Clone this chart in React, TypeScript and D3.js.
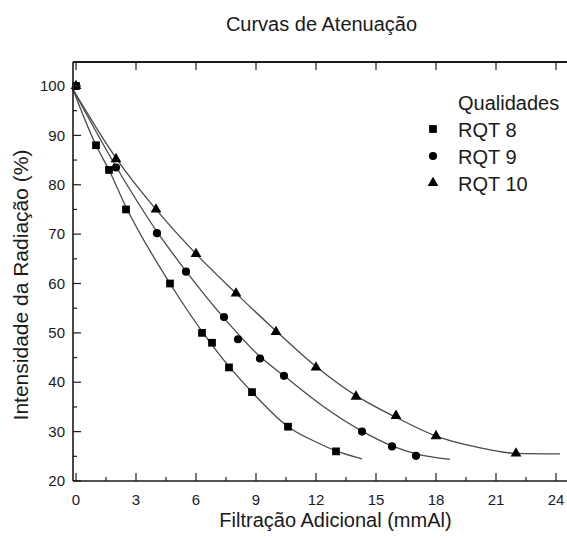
import React from "react";
import * as d3 from "d3";

const width = 567;
const height = 539;

// measured points (Filtração mmAl, Intensidade %)
const rqt8X = [0, 1, 1.65, 2.5, 4.7, 6.3, 6.8, 7.65, 8.8, 10.6, 13];
const rqt8Y = [100, 88, 83, 75, 60, 50, 48, 43, 38, 31, 26];
const rqt9X = [0, 2, 4.05, 5.5, 7.4, 8.1, 9.2, 10.4, 14.3, 15.8, 17];
const rqt9Y = [100, 83.5, 70.2, 62.4, 53.2, 48.7, 44.8, 41.3, 30, 27, 25.1];
const rqt10X = [0, 2, 4, 6, 8, 10, 12, 14, 16, 18, 22];
const rqt10Y = [100, 85.2, 75, 66, 58, 50.2, 43, 37.1, 33.2, 29.1, 25.6];

// fitted curves
const fit8X = [-0.15, 1, 1.65, 2.5, 4.7, 6.5, 7.65, 8.8, 10.6, 12, 13, 14.3];
const fit8Y = [99.3, 88, 83, 75.5, 60, 49.2, 43.2, 38, 31, 27.9, 26.1, 24.5];
const fit9X = [-0.15, 2, 4.05, 5.5, 7.4, 9.2, 10.4, 12.3, 14.3, 15.8, 17, 18.7];
const fit9Y = [99.3, 83.7, 70.5, 62.5, 53, 45.2, 41.3, 35.3, 30.1, 27.1, 25.5, 24.4];
const fit10X = [-0.15, 2, 4, 6, 8, 10, 12, 14, 16, 18, 20, 22, 24.2];
const fit10Y = [99.3, 85.4, 75, 66, 58, 50.4, 43.2, 37.3, 32.9, 29.1, 26.9, 25.6, 25.5];

const seriesNames = ["RQT 8", "RQT 9", "RQT 10"];
const xTicks = [0, 3, 6, 9, 12, 15, 18, 21, 24];
const xMinor = [1.5, 4.5, 7.5, 10.5, 13.5, 16.5, 19.5, 22.5];
const yTicks = [20, 30, 40, 50, 60, 70, 80, 90, 100];
const yMinor = [25, 35, 45, 55, 65, 75, 85, 95];

const font = "'Liberation Sans', Arial, sans-serif";
const ink = "#1a1a1a";

const x = d3.scaleLinear().domain([-0.15, 24.55]).range([73, 567]);
const y = d3.scaleLinear().domain([20, 104.86]).range([481, 62]);

const zip = (xs: number[], ys: number[]) => xs.map((v, i) => [v, ys[i]] as [number, number]);

const line = d3
  .line<[number, number]>()
  .x((d) => x(d[0]))
  .y((d) => y(d[1]))
  .curve(d3.curveMonotoneX);

const symbols = [
  d3.symbol(d3.symbolSquare, 60),
  d3.symbol(d3.symbolCircle, 52),
  d3.symbol(d3.symbolTriangle, 50),
];

const points = [zip(rqt8X, rqt8Y), zip(rqt9X, rqt9Y), zip(rqt10X, rqt10Y)];
const fits = [zip(fit8X, fit8Y), zip(fit9X, fit9Y), zip(fit10X, fit10Y)];

export default function App() {
  const left = x.range()[0];
  const right = x.range()[1];
  const bottom = y.range()[0];
  const top = y.range()[1];

  return (
    <svg width={width} height={height} style={{ display: "block", position: "absolute", left: 0, top: 0 }}>
      <rect width={width} height={height} fill="#fff" />
      <text x={321.5} y={31} textAnchor="middle" fontFamily={font} fontSize={20} fill={ink}>
        Curvas de Atenuação
      </text>

      {/* fitted curves */}
      {fits.map((f, i) => (
        <path key={i} d={line(f) || ""} fill="none" stroke="#4a4a4a" strokeWidth={1.3} />
      ))}

      {/* markers */}
      {points.map((pts, i) =>
        pts.map((p, j) => (
          <path
            key={`${i}-${j}`}
            d={symbols[i]() || ""}
            transform={`translate(${x(p[0])},${y(p[1])})`}
            fill="#000"
          />
        ))
      )}

      {/* frame */}
      <line x1={left} x2={right} y1={bottom} y2={bottom} stroke={ink} strokeWidth={1.6} />
      <line x1={left} x2={right} y1={top} y2={top} stroke={ink} strokeWidth={1.8} />
      <line x1={left} x2={left} y1={top} y2={bottom} stroke={ink} strokeWidth={1.6} />

      {/* x ticks */}
      {xTicks.map((t) => (
        <g key={t}>
          <line x1={x(t)} x2={x(t)} y1={bottom} y2={bottom - 8} stroke={ink} strokeWidth={1.2} />
          <line x1={x(t)} x2={x(t)} y1={top} y2={top + 8} stroke={ink} strokeWidth={1.2} />
          <text x={x(t)} y={505} textAnchor="middle" fontFamily={font} fontSize={15} fill={ink}>
            {t}
          </text>
        </g>
      ))}
      {xMinor.map((t) => (
        <line key={t} x1={x(t)} x2={x(t)} y1={bottom} y2={bottom - 4} stroke={ink} strokeWidth={1.2} />
      ))}

      {/* y ticks */}
      {yTicks.map((t) => (
        <g key={t}>
          <line x1={left} x2={left + 8} y1={y(t)} y2={y(t)} stroke={ink} strokeWidth={1.2} />
          <text x={65} y={y(t)} dy="0.35em" textAnchor="end" fontFamily={font} fontSize={15} fill={ink}>
            {t}
          </text>
        </g>
      ))}
      {yMinor.map((t) => (
        <line key={t} x1={left} x2={left + 4} y1={y(t)} y2={y(t)} stroke={ink} strokeWidth={1.2} />
      ))}

      <text x={335.5} y={527} textAnchor="middle" fontFamily={font} fontSize={20} fill={ink}>
        Filtração Adicional (mmAl)
      </text>
      <text
        transform="translate(28,285) rotate(-90)"
        textAnchor="middle"
        fontFamily={font}
        fontSize={21}
        fill={ink}
      >
        Intensidade da Radiação (%)
      </text>

      {/* legend */}
      <text x={458} y={110} fontFamily={font} fontSize={20} fill={ink}>
        Qualidades
      </text>
      {seriesNames.map((name, i) => (
        <g key={name}>
          <path d={symbols[i]() || ""} transform={`translate(433,${129 + i * 27})`} fill="#000" />
          <text x={458} y={137 + i * 27} fontFamily={font} fontSize={20} fill={ink}>
            {name}
          </text>
        </g>
      ))}
    </svg>
  );
}
